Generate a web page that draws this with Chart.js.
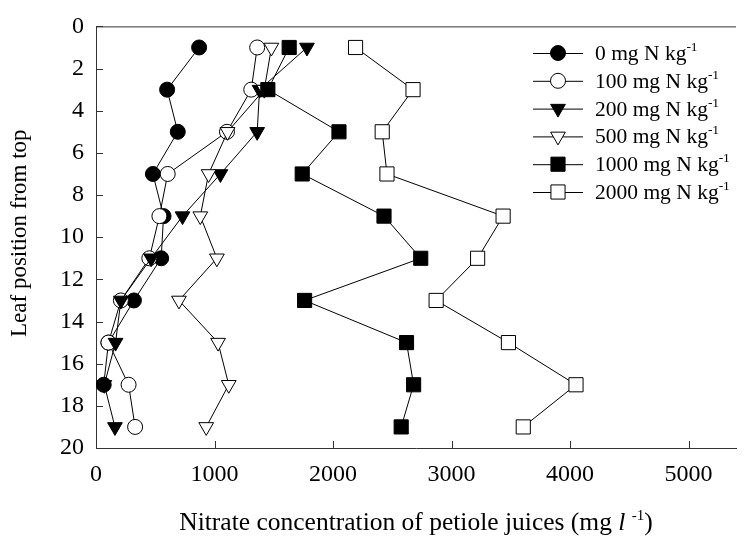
<!DOCTYPE html>
<html>
<head>
<meta charset="utf-8">
<script src="https://cdn.jsdelivr.net/npm/chart.js@4.4.0/dist/chart.umd.min.js"></script>
<style>
  html, body { margin: 0; padding: 0; background: #fff; }
  #wrap { width: 747px; height: 537px; }
</style>
</head>
<body>
<div id="wrap"><canvas id="chart" width="747" height="537"></canvas></div>
<script>
// leaf positions (y) and nitrate concentrations (x) per N rate
const leafPositions = [1, 3, 5, 7, 9, 11, 13, 15, 17, 19];
const xTickValues = [0, 1000, 2000, 3000, 4000, 5000];
const yTickValues = [0, 2, 4, 6, 8, 10, 12, 14, 16, 18, 20];

const n0 = [870, 600, 690, 480, 570, 550, 320, 105, 65];
const n100 = [1360, 1310, 1105, 605, 535, 450, 210, 105, 275, 330];
const n200 = [1780, 1380, 1360, 1050, 730, 465, 210, 165, 70, 160];
const n500 = [1480, 1420, 1110, 950, 880, 1020, 700, 1030, 1120, 930];
const n1000 = [1630, 1450, 2050, 1740, 2430, 2740, 1760, 2620, 2680, 2575];
const n2000 = [2190, 2675, 2415, 2455, 3435, 3220, 2870, 3480, 4050, 3605];

const rateLabels = ['0', '100', '200', '500', '1000', '2000'];

const SERIF = "'Liberation Serif', 'Times New Roman', serif";
const AXIS_COLOR = '#333';

const toPoints = (values) => values.map((v, i) => ({ x: v, y: leafPositions[i] }));

function makeDataset(label, values, style, filled, order) {
  const base = {
    label,
    data: toPoints(values),
    borderColor: '#000',
    borderWidth: 1,
    pointBorderColor: '#000',
    pointBorderWidth: 1,
    pointBackgroundColor: filled ? '#000' : '#fff',
    pointHoverRadius: 0,
    showLine: true,
    tension: 0,
    order
  };
  if (style === 'circle') return { ...base, pointStyle: 'circle', pointRadius: 7.5 };
  if (style === 'rect') return { ...base, pointStyle: 'rect', pointRadius: 10 };
  return { ...base, pointStyle: 'triangle', pointRadius: 8.5, pointRotation: 180 };
}

const datasets = [
  makeDataset(rateLabels[0], n0, 'circle', true, 5),
  makeDataset(rateLabels[1], n100, 'circle', false, 4),
  makeDataset(rateLabels[2], n200, 'triangle', true, 3),
  makeDataset(rateLabels[3], n500, 'triangle', false, 2),
  makeDataset(rateLabels[4], n1000, 'rect', true, 1),
  makeDataset(rateLabels[5], n2000, 'rect', false, 0)
];

// draw a run of text pieces (normal / italic / superscript) starting at x
function drawParts(ctx, parts, x, y) {
  let cx = x;
  parts.forEach((p) => {
    ctx.font = p.font;
    ctx.fillText(p.text, cx, y + (p.dy || 0));
    cx += ctx.measureText(p.text).width;
  });
}

function partsWidth(ctx, parts) {
  return parts.reduce((w, p) => {
    ctx.font = p.font;
    return w + ctx.measureText(p.text).width;
  }, 0);
}

function drawMarker(ctx, ds, x, y) {
  ctx.save();
  ctx.fillStyle = ds.pointBackgroundColor;
  ctx.strokeStyle = ds.pointBorderColor;
  ctx.lineWidth = ds.pointBorderWidth;
  Chart.helpers.drawPoint(ctx, {
    pointStyle: ds.pointStyle,
    radius: ds.pointRadius,
    rotation: ds.pointRotation || 0,
    borderWidth: ds.pointBorderWidth
  }, x, y);
  ctx.restore();
}

const decorPlugin = {
  id: 'decor',
  afterDraw(chart) {
    const { ctx, chartArea, scales } = chart;
    const { x: xs, y: ys } = scales;
    ctx.save();

    // top frame line
    ctx.strokeStyle = AXIS_COLOR;
    ctx.lineWidth = 1;
    ctx.beginPath();
    ctx.moveTo(chartArea.left, chartArea.top + 0.5);
    ctx.lineTo(chartArea.right, chartArea.top + 0.5);
    ctx.stroke();

    // inward tick marks
    ctx.beginPath();
    xTickValues.forEach((v) => {
      const px = Math.round(xs.getPixelForValue(v)) + 0.5;
      ctx.moveTo(px, chartArea.bottom);
      ctx.lineTo(px, chartArea.bottom - 7);
    });
    yTickValues.forEach((v) => {
      const py = Math.round(ys.getPixelForValue(v)) + 0.5;
      ctx.moveTo(chartArea.left, py);
      ctx.lineTo(chartArea.left + 7, py);
    });
    ctx.stroke();

    // axis titles
    ctx.fillStyle = '#000';
    ctx.textBaseline = 'alphabetic';
    ctx.textAlign = 'left';
    const titleParts = [
      { text: 'Nitrate concentration of petiole juices (mg ', font: `25.5px ${SERIF}` },
      { text: 'l', font: `italic 25.5px ${SERIF}` },
      { text: ' ', font: `25.5px ${SERIF}` },
      { text: '-1', font: `15px ${SERIF}`, dy: -10 },
      { text: ')', font: `25.5px ${SERIF}` }
    ];
    const tw = partsWidth(ctx, titleParts);
    drawParts(ctx, titleParts, (chartArea.left + chartArea.right) / 2 - tw / 2, 530);

    ctx.save();
    ctx.translate(20, (chartArea.top + chartArea.bottom) / 2 - 4);
    ctx.rotate(-Math.PI / 2);
    ctx.font = `23px ${SERIF}`;
    ctx.textAlign = 'center';
    ctx.textBaseline = 'middle';
    ctx.fillText('Leaf position from top', 0, 0);
    ctx.restore();

    // legend
    const lx = 533, lineLen = 50, textX = 595, top = 53, step = 27.8;
    chart.data.datasets.forEach((ds, i) => {
      const y = top + i * step;
      ctx.strokeStyle = '#000';
      ctx.lineWidth = 1;
      ctx.beginPath();
      ctx.moveTo(lx, y + 0.5);
      ctx.lineTo(lx + lineLen, y + 0.5);
      ctx.stroke();
      drawMarker(ctx, ds, lx + lineLen / 2, y);
      ctx.fillStyle = '#000';
      ctx.textAlign = 'left';
      ctx.textBaseline = 'alphabetic';
      drawParts(ctx, [
        { text: `${ds.label} mg N kg`, font: `21.5px ${SERIF}` },
        { text: '-1', font: `13.5px ${SERIF}`, dy: -9 }
      ], textX, y + 7);
    });

    ctx.restore();
  }
};

new Chart(document.getElementById('chart'), {
  type: 'scatter',
  data: { datasets },
  options: {
    responsive: false,
    animation: false,
    events: [],
    layout: { padding: { top: 19, right: 2, left: 0, bottom: 0 } },
    plugins: {
      legend: { display: false },
      tooltip: { enabled: false }
    },
    scales: {
      x: {
        type: 'linear',
        min: 0,
        max: 5400,
        afterBuildTicks: (s) => { s.ticks = xTickValues.map((value) => ({ value })); },
        afterFit: (s) => { s.height = 89; },
        grid: { display: false, drawTicks: false },
        border: { display: true, color: AXIS_COLOR, width: 1 },
        ticks: {
          padding: 12,
          color: '#000',
          font: { family: SERIF, size: 24 },
          maxRotation: 0,
          autoSkip: false,
          callback: (v) => String(v)
        }
      },
      y: {
        type: 'linear',
        reverse: true,
        min: 0,
        max: 20,
        afterBuildTicks: (s) => { s.ticks = yTickValues.map((value) => ({ value })); },
        afterFit: (s) => { s.width = 96; },
        grid: { display: false, drawTicks: false },
        border: { display: true, color: AXIS_COLOR, width: 1 },
        ticks: {
          padding: 12,
          color: '#000',
          font: { family: SERIF, size: 24 },
          autoSkip: false,
          callback: (v) => String(v)
        }
      }
    }
  },
  plugins: [decorPlugin]
});
</script>
</body>
</html>
